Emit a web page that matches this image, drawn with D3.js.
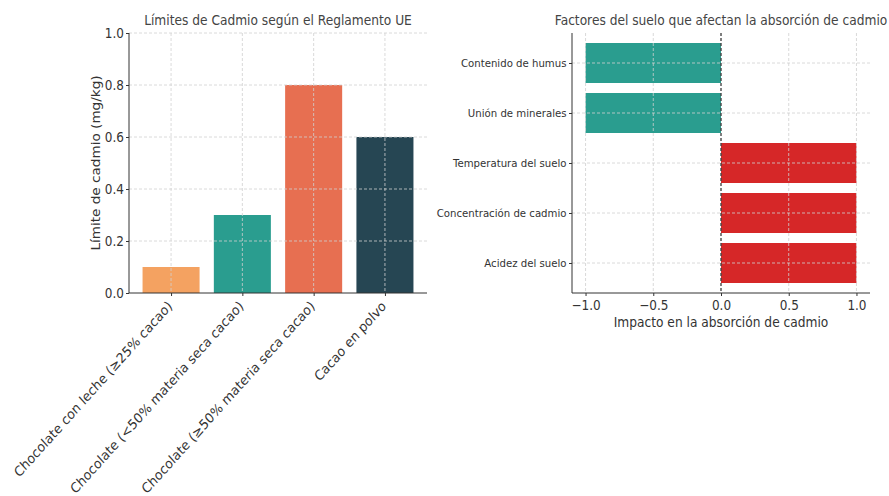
<!DOCTYPE html>
<html>
<head>
<meta charset="utf-8">
<script src="https://d3js.org/d3.v7.min.js"></script>
<style>
  body { margin: 0; background: #fff; }
  svg, svg text { font-family: "DejaVu Sans", sans-serif; }
  .grid line { stroke: #d0d0d0; stroke-width: 0.8; stroke-dasharray: 3,2; }
  .axis path, .axis line { stroke: #333; }
  .axis text { fill: #333; font-family: "DejaVu Sans", sans-serif; }
</style>
</head>
<body>
<div id="chart"></div>
<script>
// Left chart: EU cadmium limits
const products = [
    "Chocolate con leche (≥25% cacao)",
    "Chocolate (<50% materia seca cacao)",
    "Chocolate (≥50% materia seca cacao)",
    "Cacao en polvo"
];
const limits = [0.1, 0.3, 0.8, 0.6];
const productColors = ["#F4A261", "#2A9D8F", "#E76F51", "#264653"];
const limitTicks = [0, 0.2, 0.4, 0.6, 0.8, 1.0];

// Right chart: soil factors
const factors = [
    "Acidez del suelo",
    "Concentración de cadmio",
    "Temperatura del suelo",
    "Unión de minerales",
    "Contenido de humus"
];
const impacts = [1, 1, 1, -1, -1];
const impactTicks = [-1, -0.5, 0, 0.5, 1];

// the picture is a bit narrower than tall, text looks squeezed sideways
const SX = 0.9;

function squash(sel) {
    sel.each(function () {
        const t = d3.select(this);
        const x = +t.attr("x") || 0, y = +t.attr("y") || 0;
        t.attr("x", 0).attr("y", 0)
            .attr("transform", `translate(${x},${y}) scale(${SX},1)`);
    });
}

const svg = d3.select("#chart").append("svg")
    .attr("width", 889)
    .attr("height", 496);

// ---------- left bar chart ----------
const L = { left: 129, right: 427, top: 33, bottom: 293 };

const x1 = d3.scaleLinear().domain([-0.59, 3.59]).range([L.left, L.right]);
const y1 = d3.scaleLinear().domain([0, 1]).range([L.bottom, L.top]);
const barW = x1(0.4) - x1(-0.4);

const g1 = svg.append("g");

g1.selectAll("rect")
    .data(limits)
    .join("rect")
    .attr("x", (d, i) => x1(i) - barW / 2)
    .attr("width", barW)
    .attr("y", d => y1(d))
    .attr("height", d => y1(0) - y1(d))
    .attr("fill", (d, i) => productColors[i]);

const grid1 = g1.append("g").attr("class", "grid");
grid1.selectAll("line.h")
    .data(limitTicks.slice(1))
    .join("line")
    .attr("x1", L.left).attr("x2", L.right)
    .attr("y1", d => y1(d)).attr("y2", d => y1(d));
grid1.selectAll("line.v")
    .data(products)
    .join("line")
    .attr("class", "v")
    .attr("x1", (d, i) => x1(i)).attr("x2", (d, i) => x1(i))
    .attr("y1", L.top).attr("y2", L.bottom);

g1.append("g")
    .attr("class", "axis")
    .attr("transform", `translate(${L.left},0)`)
    .call(d3.axisLeft(y1).tickValues(limitTicks).tickFormat(d3.format(".1f")).tickSize(3).tickPadding(2))
    .call(g => g.select(".domain").attr("d", `M0,${L.top}V${L.bottom}`))
    .call(g => g.attr("font-family", null).attr("font-size", null))
    .selectAll("text").style("font-size", "13.4px").call(squash);

const xa1 = g1.append("g")
    .attr("class", "axis")
    .attr("transform", `translate(0,${L.bottom})`)
    .call(d3.axisBottom(x1).tickValues([0, 1, 2, 3]).tickFormat(i => products[i]).tickSize(3))
    .call(g => g.select(".domain").attr("d", `M${L.left},0H${L.right}`))
    .call(g => g.attr("font-family", null).attr("font-size", null));

xa1.selectAll("text")
    .style("font-size", "13.8px")
    .attr("text-anchor", "end")
    .attr("y", 0)
    .attr("dy", 0)
    .attr("transform", `translate(1.5,14) scale(${SX},1) rotate(-45)`);

g1.append("text")
    .attr("transform", `translate(99.5,${(L.top + L.bottom) / 2}) scale(${SX},1) rotate(-90)`)
    .attr("text-anchor", "middle")
    .style("font-size", "13.6px")
    .attr("fill", "#333")
    .text("Límite de cadmio (mg/kg)");

g1.append("text")
    .attr("transform", `translate(${(L.left + L.right) / 2},25) scale(${SX},1)`)
    .attr("text-anchor", "middle")
    .style("font-size", "13.6px")
    .attr("fill", "#444")
    .text("Límites de Cadmio según el Reglamento UE");

// ---------- right horizontal bar chart ----------
const R = { left: 572, right: 870, top: 33, bottom: 293 };

const x2 = d3.scaleLinear().domain([-1.1, 1.1]).range([R.left, R.right]);
const y2 = d3.scaleLinear().domain([-0.6, 4.6]).range([R.bottom, R.top]);
const barH = y2(-0.4) - y2(0.4);

const g2 = svg.append("g");

g2.selectAll("rect")
    .data(impacts)
    .join("rect")
    .attr("x", d => x2(Math.min(0, d)))
    .attr("width", d => Math.abs(x2(d) - x2(0)))
    .attr("y", (d, i) => y2(i) - barH / 2)
    .attr("height", barH)
    .attr("fill", d => d > 0 ? "#D62728" : "#2A9D8F");

const grid2 = g2.append("g").attr("class", "grid");
grid2.selectAll("line.h")
    .data(factors)
    .join("line")
    .attr("class", "h")
    .attr("x1", R.left).attr("x2", R.right)
    .attr("y1", (d, i) => y2(i)).attr("y2", (d, i) => y2(i));
grid2.selectAll("line.v")
    .data(impactTicks)
    .join("line")
    .attr("class", "v")
    .attr("x1", d => x2(d)).attr("x2", d => x2(d))
    .attr("y1", R.top).attr("y2", R.bottom);

// zero line
g2.append("line")
    .attr("x1", x2(0)).attr("x2", x2(0))
    .attr("y1", R.top).attr("y2", R.bottom)
    .attr("stroke", "#111")
    .attr("stroke-width", 1)
    .attr("stroke-dasharray", "3,2");

g2.append("g")
    .attr("class", "axis")
    .attr("transform", `translate(${R.left},0)`)
    .call(d3.axisLeft(y2).tickValues([0, 1, 2, 3, 4]).tickFormat(i => factors[i]).tickSize(3).tickPadding(2.5))
    .call(g => g.select(".domain").attr("d", `M0,${R.top}V${R.bottom}`))
    .call(g => g.attr("font-family", null).attr("font-size", null))
    .selectAll("text").style("font-size", "11.3px").call(squash);

g2.append("g")
    .attr("class", "axis")
    .attr("transform", `translate(0,${R.bottom})`)
    .call(d3.axisBottom(x2).tickValues(impactTicks).tickFormat(d3.format(".1f")).tickSize(3).tickPadding(4))
    .call(g => g.select(".domain").attr("d", `M${R.left},0H${R.right}`))
    .call(g => g.attr("font-family", null).attr("font-size", null))
    .selectAll("text").style("font-size", "13.4px").call(squash);

g2.append("text")
    .attr("transform", `translate(${(R.left + R.right) / 2},326.5) scale(${SX},1)`)
    .attr("text-anchor", "middle")
    .style("font-size", "13.6px")
    .attr("fill", "#333")
    .text("Impacto en la absorción de cadmio");

g2.append("text")
    .attr("transform", `translate(${(R.left + R.right) / 2},25) scale(${SX},1)`)
    .attr("text-anchor", "middle")
    .style("font-size", "13.6px")
    .attr("fill", "#444")
    .text("Factores del suelo que afectan la absorción de cadmio");
</script>
</body>
</html>
